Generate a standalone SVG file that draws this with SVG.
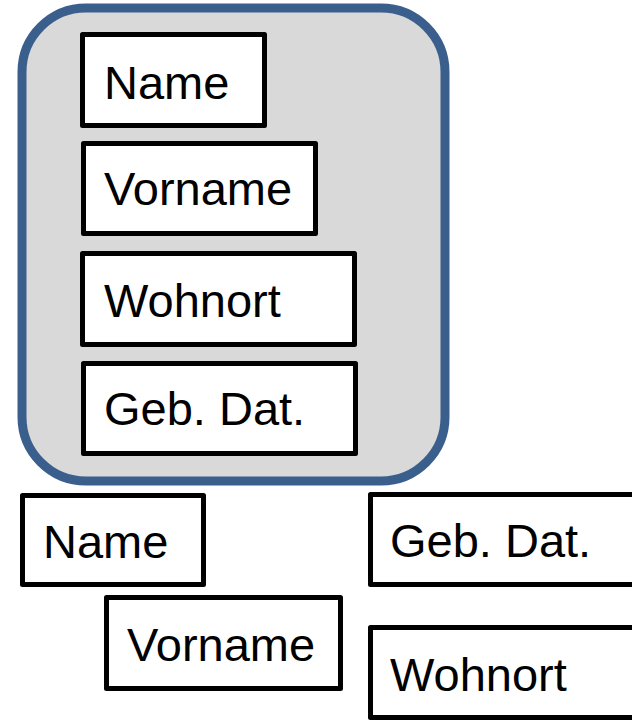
<svg xmlns="http://www.w3.org/2000/svg" width="632" height="720" viewBox="0 0 632 720">
  <style>
    .field { fill: #ffffff; stroke: #000000; stroke-width: 5; stroke-linejoin: round; }
    .label { font-family: "Liberation Sans", Arial, sans-serif; font-size: 47px; fill: #000000; }
    .record { fill: #d9d9d9; stroke: #3b5f8d; stroke-width: 9; }
  </style>
  <rect width="632" height="720" fill="#ffffff"/>

  <!-- record container with its grouped fields -->
  <g id="record">
    <rect class="record" x="22" y="8" width="423" height="473" rx="64" ry="64"/>
  </g>
  <g id="rec-name">
    <rect class="field" x="82.5" y="34.5" width="182" height="91"/>
    <text class="label" x="104" y="99">Name</text>
  </g>
  <g id="rec-vorname">
    <rect class="field" x="83.5" y="143.5" width="232" height="90"/>
    <text class="label" x="104" y="205">Vorname</text>
  </g>
  <g id="rec-wohnort">
    <rect class="field" x="82.5" y="253.5" width="272" height="91"/>
    <text class="label" x="104" y="317">Wohnort</text>
  </g>
  <g id="rec-gebdat">
    <rect class="field" x="83.5" y="363.5" width="272" height="90"/>
    <text class="label" x="104" y="425">Geb. Dat.</text>
  </g>

  <!-- loose fields -->
  <g id="name">
    <rect class="field" x="22.5" y="495.5" width="181" height="89"/>
    <text class="label" x="43" y="558">Name</text>
  </g>
  <g id="vorname">
    <rect class="field" x="106.5" y="597.5" width="234" height="91"/>
    <text class="label" x="127" y="661">Vorname</text>
  </g>
  <g id="gebdat">
    <rect class="field" x="370.5" y="494.5" width="300" height="90"/>
    <text class="label" x="390" y="557">Geb. Dat.</text>
  </g>
  <g id="wohnort">
    <rect class="field" x="370.5" y="627.5" width="300" height="90"/>
    <text class="label" x="390" y="691">Wohnort</text>
  </g>

  <g id="connectors"/>
</svg>
